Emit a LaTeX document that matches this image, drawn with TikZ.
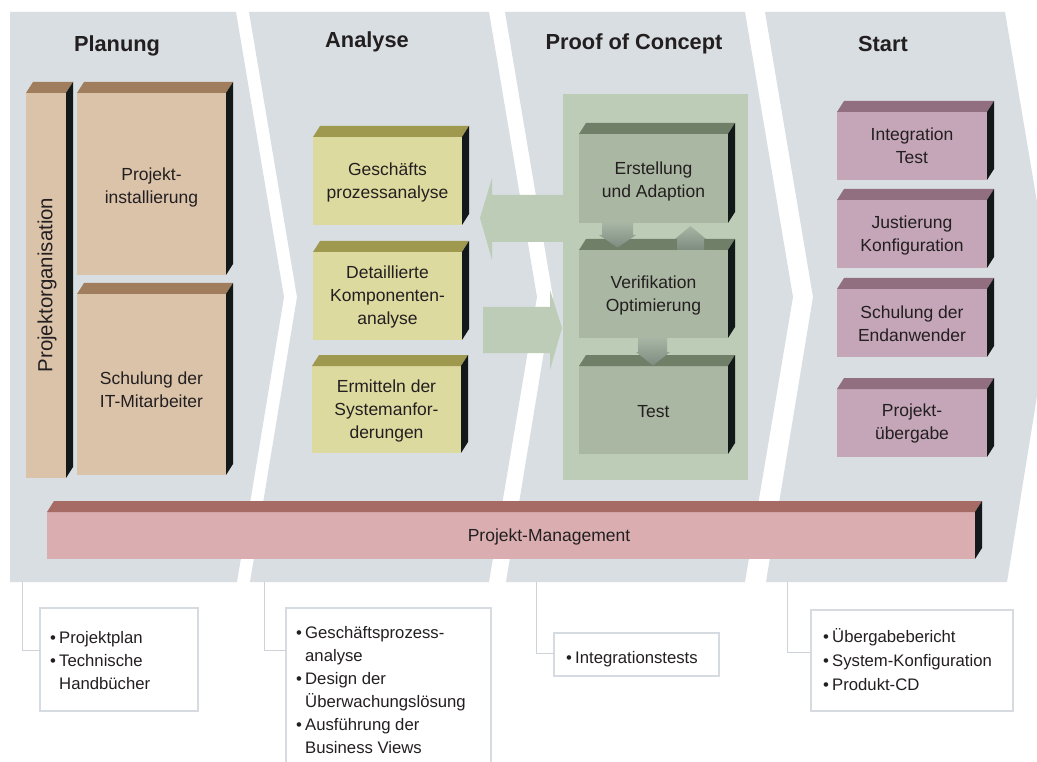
\documentclass[tikz,border=0pt]{standalone}
\usepackage{fontspec}
\setmainfont{Liberation Sans}
\usetikzlibrary{calc}
\definecolor{band}{HTML}{D9DEE2}
\definecolor{ink}{HTML}{231F20}
\definecolor{sideblack}{HTML}{131818}
\definecolor{tanface}{HTML}{DBC3AA}
\definecolor{tantop}{HTML}{A07D5C}
\definecolor{yface}{HTML}{DDDAA0}
\definecolor{ytop}{HTML}{9E994E}
\definecolor{pocbg}{HTML}{BCCCB6}
\definecolor{gface}{HTML}{AAB7A2}
\definecolor{gtop}{HTML}{6F7F68}
\definecolor{mface}{HTML}{C4A6B8}
\definecolor{mtop}{HTML}{916F80}
\definecolor{pface}{HTML}{DAAEB0}
\definecolor{ptop}{HTML}{A66B65}
\definecolor{dborder}{HTML}{D5DBE1}
\definecolor{connc}{HTML}{CDD3D9}
\definecolor{arrlight}{HTML}{A7B5A4}
\definecolor{arrdark}{HTML}{7D8C80}
\tikzset{
  txt/.style={font=\fontsize{17.5}{23}\selectfont, text=ink, align=center},
  cubeface/.style={inner sep=0pt, outer sep=0pt, draw=none},
  titletext/.style={font=\fontsize{21.8}{26}\selectfont\bfseries, text=ink, anchor=base, inner sep=0pt},
  dbox/.style={draw=dborder, line width=1.1pt, fill=white, inner sep=0pt, outer sep=0pt},
  dline/.style={font=\fontsize{16.7}{23}\selectfont, text=ink, anchor=base west, inner sep=0pt},
  conn/.style={draw=connc, line width=1pt},
  smallarrow/.style={top color=arrlight, bottom color=arrdark, draw=none},
}
% name, cx, cy, w, h, face, top, text, text y offset
\newcommand\cube[9]{%
  \node[cubeface, fill=#6, minimum width=#4pt, minimum height=#5pt] (#1) at (#2,#3) {};
  \fill[#7] (#1.north west) -- ++(7,-11) -- ($(#1.north east)+(7,-11)$) -- (#1.north east) -- cycle;
  \fill[sideblack] (#1.north east) -- ++(7,-11) -- ($(#1.south east)+(7,-11)$) -- (#1.south east) -- cycle;
  \node[txt, inner sep=0pt] (#1t) at ($(#1)+(0,#9)$) {#8};
}
\newcommand\bul{\llap{•\hspace{3.2pt}}}
\begin{document}
\begin{tikzpicture}[x=1pt,y=-1pt]
\path[use as bounding box] (0,0) rectangle (1037,762);
\clip (0,0) rectangle (1037,762);
\fill[white] (0,0) rectangle (1037,762);
% phase bands
\fill[band] (10,12) -- (236,12) -- (284,297) -- (237,582) -- (10,582) -- cycle;
\fill[band] (249,12) -- (489,12) -- (537,297) -- (489,582) -- (250,582) -- (297,297) -- cycle;
\fill[band] (505,12) -- (745,12) -- (793,297) -- (745,582) -- (506,582) -- (553,297) -- cycle;
\fill[band] (765,12) -- (1005,12) -- (1053,297) -- (1007,582) -- (766,582) -- (813,297) -- cycle;
% titles
\node[titletext] (tplan) at (117,52) {Planung};
\node[titletext] (tana) at (367,48) {Analyse};
\node[titletext] (tpoc) at (634,50) {Proof of Concept};
\node[titletext] (tstart) at (883,52) {Start};
% PoC background
\fill[pocbg] (563,94) rectangle (748,480);
% big arrows
\fill[pocbg] (563,195) -- (492,195) -- (492,178) -- (480,218) -- (492,260) -- (492,242) -- (563,242) -- cycle;
\fill[pocbg] (483,307) -- (550,307) -- (550,290) -- (562,328) -- (550,370) -- (550,353) -- (483,353) -- cycle;
% Planung
\node[cubeface, fill=tanface, minimum width=40pt, minimum height=385pt] (porg) at (46,285.5) {};
\fill[tantop] (porg.north west) -- ++(7,-11) -- ($(porg.north east)+(7,-11)$) -- (porg.north east) -- cycle;
\fill[sideblack] (porg.north east) -- ++(7,-11) -- ($(porg.south east)+(7,-11)$) -- (porg.south east) -- cycle;
\node[text=ink, font=\fontsize{20.4}{24}\selectfont, rotate=90, inner sep=0pt] (porgt) at (47,285) {Projektorganisation};
\cube{pinst}{151.5}{184}{149}{182}{tanface}{tantop}{Projekt-\\installierung}{3.5}
\cube{pschul}{151.5}{384.5}{149}{181}{tanface}{tantop}{Schulung der\\IT-Mitarbeiter}{5}
% Analyse
\cube{a1}{387.5}{181}{149}{88}{yface}{ytop}{Geschäfts\\prozessanalyse}{1.5}
\cube{a2}{387.5}{296}{149}{88}{yface}{ytop}{Detaillierte\\Komponenten-\\analyse}{1}
\cube{a3}{386.5}{409.5}{149}{87}{yface}{ytop}{Ermitteln der\\Systemanfor-\\derungen}{1.5}
% PoC
\cube{e1}{653.5}{178.5}{149}{89}{gface}{gtop}{Erstellung\\und Adaption}{3}
\cube{e2}{653.5}{294}{149}{88}{gface}{gtop}{Verifikation\\Optimierung}{1.5}
\cube{e3}{653.5}{410}{149}{88}{gface}{gtop}{Test}{2}
\shade[smallarrow] (602,223) -- (633,223) -- (633,235) -- (636,235) -- (617.5,247.5) -- (599,235) -- (602,235) -- cycle;
\shade[smallarrow] (677,250) -- (677,239) -- (675,239) -- (690.5,226) -- (706,239) -- (704,239) -- (704,250) -- cycle;
\shade[smallarrow] (638,338) -- (667,338) -- (667,352) -- (670,352) -- (653,365.5) -- (636,352) -- (638,352) -- cycle;
% Start
\cube{s1}{912}{146}{150}{68}{mface}{mtop}{Integration\\Test}{0}
\cube{s2}{912}{234}{150}{68}{mface}{mtop}{Justierung\\Konfiguration}{1}
\cube{s3}{912}{323}{150}{68}{mface}{mtop}{Schulung der\\Endanwender}{1}
\cube{s4}{912}{423}{150}{68}{mface}{mtop}{Projekt-\\übergabe}{0.5}
% Projekt-Management
\node[cubeface, fill=pface, minimum width=928pt, minimum height=47pt] (pm) at (511,535.5) {};
\fill[ptop] (pm.north west) -- ++(7,-11) -- ($(pm.north east)+(7,-11)$) -- (pm.north east) -- cycle;
\fill[sideblack] (pm.north east) -- ++(7,-11) -- ($(pm.south east)+(7,-11)$) -- (pm.south east) -- cycle;
\node[txt] (pmt) at (549,537) {Projekt-Management};
% deliverables
\node[dbox, minimum width=158pt, minimum height=103pt] (d1) at (119,659.5) {};
\node[dbox, minimum width=205pt, minimum height=170pt] (d2) at (388.5,693) {};
\node[dbox, minimum width=165pt, minimum height=43pt] (d3) at (636.5,654.5) {};
\node[dbox, minimum width=202pt, minimum height=101pt] (d4) at (912,660.5) {};
\coordinate (c1) at (22,582);  \coordinate (k1) at (22,650);
\coordinate (c2) at (264,582); \coordinate (k2) at (264,650);
\coordinate (c3) at (536,582); \coordinate (k3) at (536,653);
\coordinate (c4) at (787,582); \coordinate (k4) at (787,652);
\draw[conn] (c1) -- (k1) -- (k1 -| d1.west);
\draw[conn] (c2) -- (k2) -- (k2 -| d2.west);
\draw[conn] (c3) -- (k3) -- (k3 -| d3.west);
\draw[conn] (c4) -- (k4) -- (k4 -| d4.west);
\node[dline] (d1a) at (59,643) {\bul Projektplan};
\node[dline] (d1b) at (59,666) {\bul Technische};
\node[dline] (d1c) at (59,689) {Handbücher};
\node[dline] (d2a) at (305,638) {\bul Geschäftsprozess-};
\node[dline] (d2b) at (305,661) {analyse};
\node[dline] (d2c) at (305,684) {\bul Design der};
\node[dline] (d2d) at (305,707) {Überwachungslösung};
\node[dline] (d2e) at (305,730) {\bul Ausführung der};
\node[dline] (d2f) at (305,753) {Business Views};
\node[dline] (d3a) at (575,663) {\bul Integrationstests};
\node[dline] (d4a) at (832,642) {\bul Übergabebericht};
\node[dline] (d4b) at (832,666) {\bul System-Konfiguration};
\node[dline] (d4c) at (832,690) {\bul Produkt-CD};
\end{tikzpicture}
\end{document}
